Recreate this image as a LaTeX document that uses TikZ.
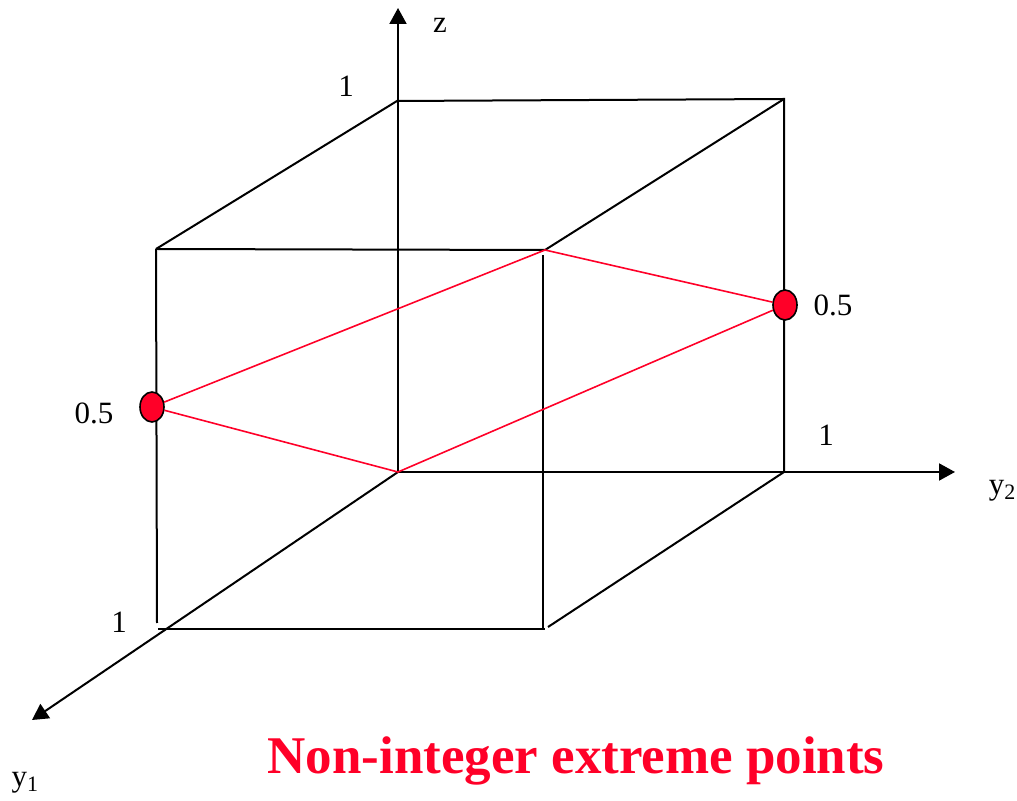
\documentclass[tikz,border=0pt]{standalone}
\usepackage{fontspec}
\setmainfont{Liberation Serif}
\usetikzlibrary{arrows.meta,shapes.geometric}
\definecolor{ptred}{RGB}{255,0,40}
\newcommand{\axsub}[1]{\raisebox{-0.35ex}{\fontsize{11}{12}\selectfont #1}}

\begin{document}
\begin{tikzpicture}[
  x=0.5pt, y=-0.5pt,
  edge/.style={line width=1pt, black},
  axis/.style={line width=1pt, -{Triangle[length=8pt,width=8.5pt]}},
  redline/.style={line width=0.8pt, ptred},
  vertex/.style={ellipse, draw=black, line width=0.8pt, fill=ptred,
    minimum width=12pt, minimum height=15pt, inner sep=0pt},
  lbl/.style={font=\fontsize{15.5}{18}\selectfont, inner sep=0pt}
]
\useasboundingbox (0,0) rectangle (1017,801);
\coordinate (o) at (398,472);
\coordinate (ztip) at (398,8);
\coordinate (y2tip) at (955,472);
\coordinate (y1tip) at (32,720);
\coordinate (tbl) at (397,101);
\coordinate (tbr) at (784,99);
\coordinate (ftl) at (156,249);
\coordinate (ftr) at (545,250);
\coordinate (fbl) at (158,629);
\coordinate (fbr) at (545,629);
\coordinate (bbr) at (784,472);
\draw[axis] (o) -- (ztip);
\draw[axis] (o) -- (y2tip);
\draw[axis] (o) -- (y1tip);
\draw[edge] (ftl) -- (tbl) -- (tbr) -- (bbr);
\draw[edge] (ftl) -- (ftr) -- (tbr);
\draw[edge] (ftl) -- (157,623);
\draw[edge] (fbl) -- (fbr);
\draw[edge] (543,255) -- (543,630);
\draw[edge] (548,627) -- (bbr);
\node[vertex] (p1) at (152,407) {};
\node[vertex] (p2) at (785,305) {};
\draw[redline] (p1) -- (ftr) -- (p2);
\draw[redline] (p1) -- (o) -- (p2);
\node[lbl] (zlabel) at (440,25) {z};
\node[lbl] (ztick) at (346,86) {1};
\node[lbl] (y1tick) at (119,622) {1};
\node[lbl] (y2tick) at (826,435) {1};
\node[lbl] (p1label) at (94,413) {0.5};
\node[lbl] (p2label) at (833,305) {0.5};
\node[lbl] (y2label) at (1002,491) {y\axsub{2}};
\node[lbl] (y1label) at (25,783) {y\axsub{1}};
\node[font=\fontsize{26.5}{30}\selectfont\bfseries, text=ptred, inner sep=0pt, anchor=base]
  (title) at (576,773) {Non-integer extreme points};
\end{tikzpicture}
\end{document}
